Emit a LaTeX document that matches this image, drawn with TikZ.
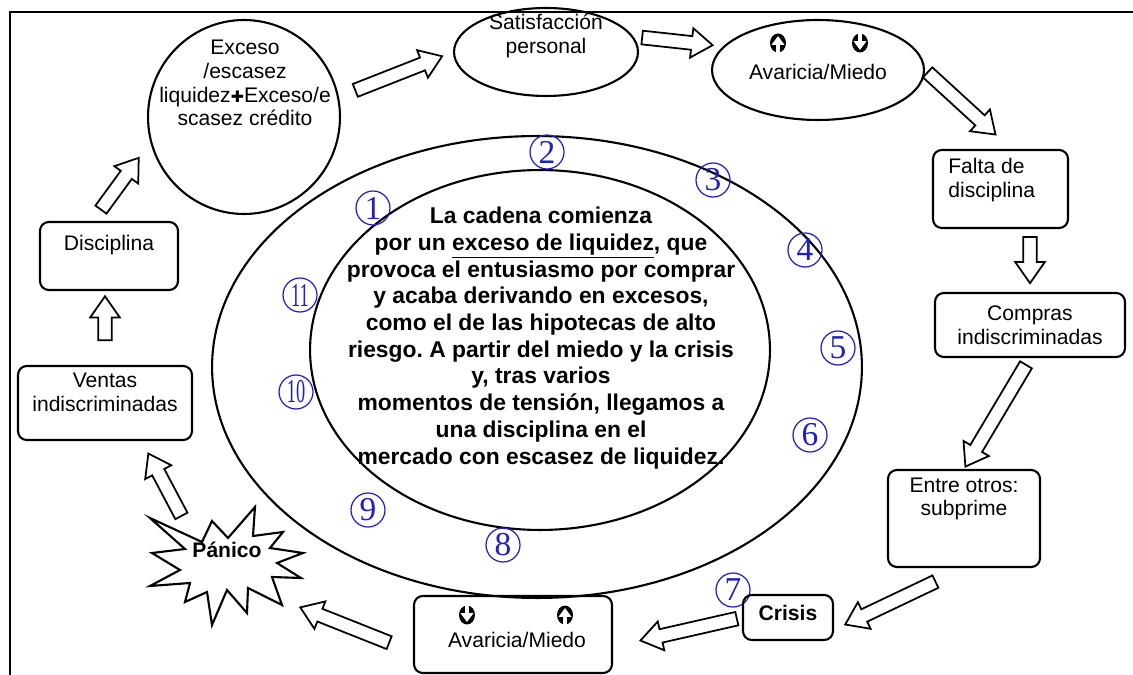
\documentclass[tikz,border=0pt]{standalone}
\usepackage{fontspec}
\setmainfont{Liberation Sans}
\newfontfamily\dejavu{DejaVu Sans}
\newfontfamily\numfont{Liberation Serif}
\usepackage{tikz}
\usetikzlibrary{calc}
\usetikzlibrary{arrows.meta}
\usetikzlibrary{positioning, shapes.geometric, shapes.arrows}
\usepackage{xcolor}
\definecolor{myBlue}{HTML}{2020C0}
\colorlet{colorNum}{myBlue}
\frenchspacing

% hollow block arrow between two points, with a gap at each end
\newcommand{\blockarrow}[4]{%
  \path let \p1=(#1), \p2=(#2),
    \n1={atan2(\y2-\y1,\x2-\x1)}, \n2={veclen(\x2-\x1,\y2-\y1)} in
    node[blockarr, anchor=tail, rotate=\n1, minimum height=\n2-#3-#4]
      at ($(\p1)!#3!(\p2)$) {};}

\tikzset{
  icoup/.pic={\fill (0,0) ellipse [x radius=0.16cm, y radius=0.19cm];
    \draw[white, line width=2pt, -{Triangle[width=7pt,length=5pt]}] (0,10) -- (0,-7);},
  icodown/.pic={\fill (0,0) ellipse [x radius=0.16cm, y radius=0.19cm];
    \draw[white, line width=2pt, -{Triangle[width=7pt,length=5pt]}] (0,-10) -- (0,7);}
}

\begin{document}
\begin{tikzpicture}[x=0.02cm, y=-0.02cm,
    txt/.style={font=\fontsize{12}{13.5}\selectfont, inner sep=0pt, align=center},
    bold/.style={txt, font=\fontsize{12}{13.5}\selectfont\bfseries},
    oval/.style={draw, ellipse, line width=1.2pt, inner sep=0pt},
    box/.style={draw, rectangle, rounded corners=5pt, line width=1.2pt, inner sep=0pt},
    blockarr/.style={draw, fill=white, single arrow, line width=1pt, inner sep=3.4pt,
      outer sep=0pt, minimum width=0pt, single arrow head extend=4.5pt, single arrow tip angle=70},
    num/.style={circle, draw=colorNum, line width=0.7pt, text=colorNum, minimum size=0.68cm,
      inner sep=0pt, font=\numfont\fontsize{19}{19}\selectfont}]
  \useasboundingbox (0,0) rectangle (1133,675);
  \draw[line width=1.5pt] (10,675) -- (10,12) -- (1133,12);

  % centre of the cycle
  \node[oval, minimum width=13cm, minimum height=9.24cm] (outer) at (537,367) {};
  \node[oval, minimum width=9.2cm, minimum height=7.2cm] (inner) at (540,350) {};
  \node[txt, font=\fontsize{13}{15.2}\selectfont\bfseries] (chain) at (541,338)
    {La cadena comienza\\
     por un \underline{exceso de liquidez}, que\\
     provoca el entusiasmo por comprar\\
     y acaba derivando en excesos,\\
     como el de las hipotecas de alto\\
     riesgo. A partir del miedo y la crisis\\
     y, tras varios\hspace{1.2em}\\
     momentos de tensión, llegamos a\\
     una disciplina en el\\
     mercado con escasez de liquidez.};
  \foreach \i/\x/\y in {1/373/208, 2/547/152, 3/713/180, 4/805/250, 5/838/348,
      6/810/435, 7/733/590, 8/503/545, 9/368/510}
    \node[num] (num\i) at (\x,\y) {\i};
  \foreach \i/\x/\y in {10/296/392, 11/300/295}
    \node[num] (num\i) at (\x,\y) {\scalebox{0.55}[1]{\i}};

  % the stages
  \node[oval, minimum width=3.84cm, minimum height=3.88cm] (exc) at (244,117) {};
  \node[txt] (exc-t) at (245,83)
    {Exceso\\/escasez\\liquidez{\dejavu\fontsize{9}{10}\selectfont ✚}Exceso/e\\scasez crédito};
  \node[oval, minimum width=3.68cm, minimum height=1.76cm] (sat) at (546,52) {};
  \node[txt] (sat-t) at (546,36) {Satisfacción\\personal};
  \node[oval, minimum width=4.24cm, minimum height=2cm] (av1) at (818,70) {};
  \pic at (778,43) {icoup};
  \pic at (860,43) {icodown};
  \node[txt] (av1-t) at (818,72) {Avaricia/Miedo};
  \node[box, minimum width=2.7cm, minimum height=1.56cm] (falta) at (1000.5,189) {};
  \node[txt, align=left, anchor=west] (falta-t) at (948,180) {Falta de\\disciplina};
  \node[box, minimum width=3.8cm, minimum height=1.28cm] (comp) at (1030,325) {};
  \node[txt] (comp-t) at (1030,325) {Compras\\indiscriminadas};
  \node[box, minimum width=3.04cm, minimum height=1.94cm] (entre) at (964,518.5) {};
  \node[txt] (entre-t) at (964,499) {Entre otros:\\subprime};
  \node[box, minimum width=1.8cm, minimum height=0.9cm] (crisis) at (788,617.5) {};
  \node[bold] (crisis-t) at (788,613) {Crisis};
  \node[box, minimum width=3.96cm, minimum height=1.54cm] (av2) at (513,634.5) {};
  \pic at (467,615) {icodown};
  \pic at (565,615) {icoup};
  \node[txt] (av2-t) at (517,640) {Avaricia/Miedo};
  \draw[line width=1.2pt, fill=white] (150,518) -- (202,542) -- (212,521) -- (228,538)
    -- (255,507) -- (253,536) -- (283,532) -- (270,548) -- (303,553) -- (277,563)
    -- (301,578) -- (272,577) -- (282,605) -- (248,588) -- (247,613) -- (227,590)
    -- (212,625) -- (207,592) -- (185,602) -- (190,583) -- (150,586) -- (180,570)
    -- (152,553) -- (185,549) -- cycle;
  \node[bold, circle, minimum size=2.2cm] (pan) at (227,550) {Pánico};
  \node[box, minimum width=3.48cm, minimum height=1.48cm] (vent) at (105,403) {};
  \node[txt] (vent-t) at (105,392) {Ventas\\indiscriminadas};
  \node[box, minimum width=2.76cm, minimum height=1.36cm] (disc) at (109,256) {};
  \node[txt] (disc-t) at (109,245) {Disciplina};

  % block arrows round the cycle
  \blockarrow{exc.12}{sat.west}{10pt}{6.6pt}
  \blockarrow{sat.10}{av1.166}{5pt}{6pt}
  \blockarrow{av1.east}{falta.75}{2pt}{12pt}
  \blockarrow{falta.south -| comp.north}{comp.north}{4.5pt}{5pt}
  \blockarrow{comp.south}{entre.north}{4.5pt}{1.5pt}
  \blockarrow{entre.south}{crisis.-15}{18pt}{7pt}
  \blockarrow{crisis.west}{av2.-7}{3pt}{16pt}
  \blockarrow{av2.190}{pan.-50}{14.6pt}{23pt}
  \blockarrow{pan.144}{vent.-46}{1pt}{8pt}
  \blockarrow{vent.north}{vent.north |- disc.south}{14pt}{3pt}
  \blockarrow{disc.115}{exc.195}{8pt}{11pt}
\end{tikzpicture}
\end{document}
